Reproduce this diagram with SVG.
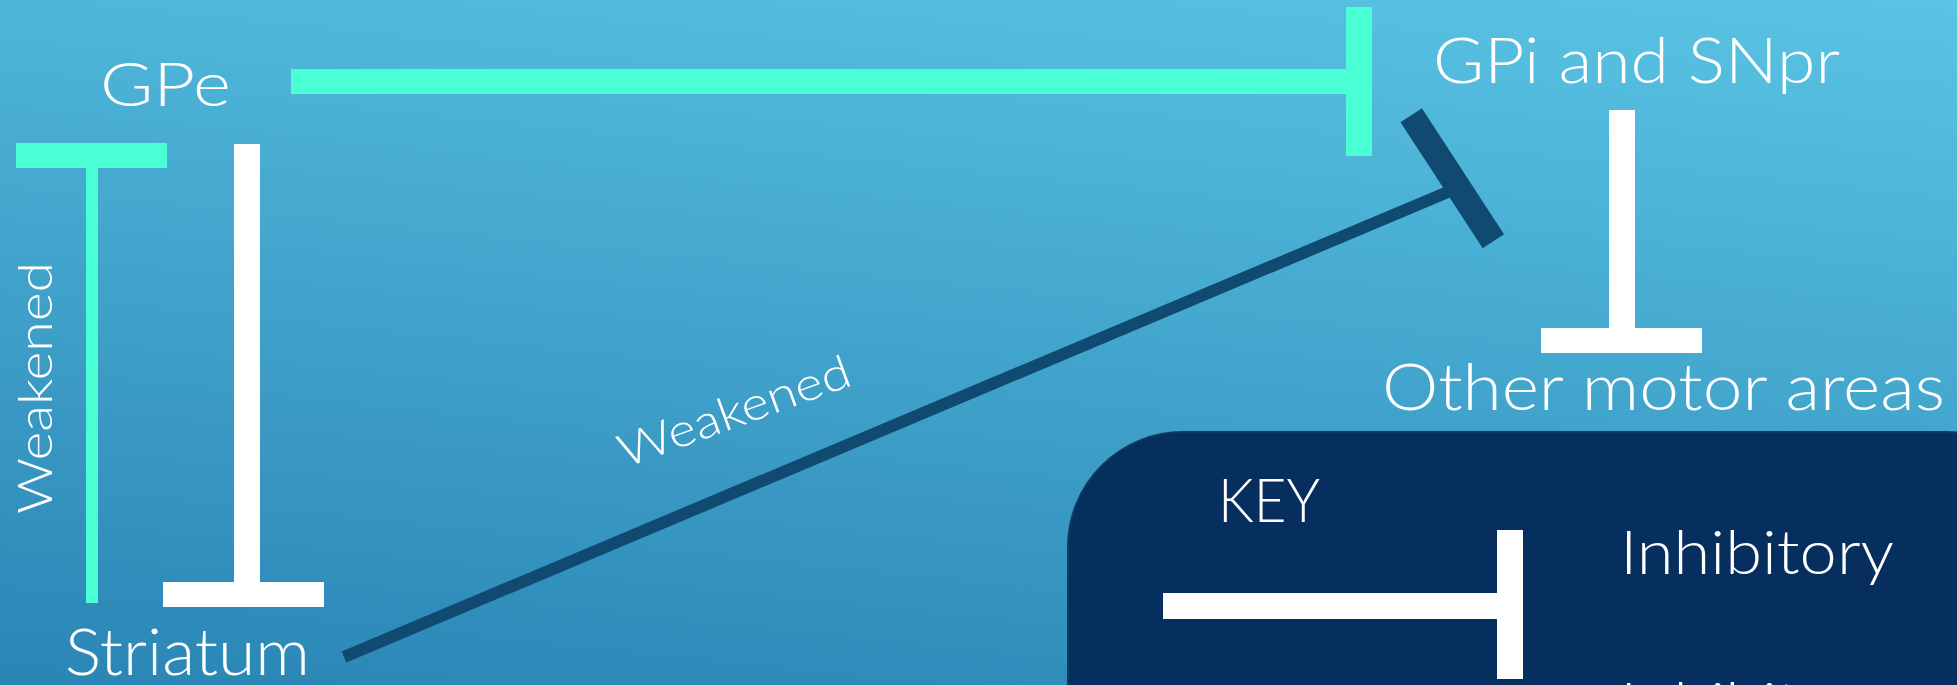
<svg xmlns="http://www.w3.org/2000/svg" width="1957" height="685" viewBox="0 0 1957 685">
  <defs>
    <linearGradient id="bg" gradientUnits="userSpaceOnUse" x1="1957" y1="0" x2="1865" y2="880">
      <stop offset="0" stop-color="#5ac4e4"/>
      <stop offset="1" stop-color="#2a85b5"/>
    </linearGradient>
    <style>
      .lbl { font-family: Lato, "Open Sans", "Liberation Sans", sans-serif; font-weight: 300; fill: #ffffff; }
      .green { fill: #4affd4; }
      .white { fill: #ffffff; }
      .dark { fill: #114a70; }
    </style>
  </defs>
  <rect x="0" y="0" width="1957" height="685" fill="url(#bg)"/>

  <g id="connectors">
    <!-- GPe -> GPi (green, inhibitory) -->
    <g id="gpe-gpi">
      <rect class="green" x="291" y="69" width="1057" height="25"/>
      <rect class="green" x="1346" y="7" width="26" height="149"/>
    </g>
    <!-- Striatum -> GPe (green, weakened) -->
    <g id="striatum-gpe">
      <rect class="green" x="86" y="166" width="12" height="437"/>
      <rect class="green" x="16" y="143" width="151" height="25"/>
      <text class="lbl" font-size="48" textLength="252" lengthAdjust="spacingAndGlyphs" transform="translate(52,514) rotate(-90)">Weakened</text>
    </g>
    <!-- GPe -> Striatum (white) -->
    <g id="gpe-striatum">
      <rect class="white" x="234" y="144" width="26" height="440"/>
      <rect class="white" x="163" y="582" width="161" height="25"/>
    </g>
    <!-- GPi -> Other motor areas (white) -->
    <g id="gpi-other">
      <rect class="white" x="1609" y="110" width="26" height="220"/>
      <rect class="white" x="1541" y="328" width="161" height="25"/>
    </g>
    <!-- Striatum -> GPi (dark, weakened) -->
    <g id="striatum-gpi">
      <line x1="344" y1="657" x2="1455" y2="189" stroke="#114a70" stroke-width="12"/>
      <polygon class="dark" points="1400.5,122.3 1421.9,108.3 1504,234.3 1482.7,248.3"/>
      <text class="lbl" font-size="46" textLength="244" lengthAdjust="spacingAndGlyphs" transform="translate(625,468) rotate(-20)">Weakened</text>
    </g>
  </g>

  <g id="node-gpe">
    <text class="lbl" x="100" y="106" font-size="62" textLength="131" lengthAdjust="spacingAndGlyphs">GPe</text>
  </g>
  <g id="node-striatum">
    <text class="lbl" x="65" y="675" font-size="66" textLength="245" lengthAdjust="spacingAndGlyphs">Striatum</text>
  </g>
  <g id="node-gpi">
    <text class="lbl" x="1433" y="83" font-size="64" textLength="407" lengthAdjust="spacingAndGlyphs">GPi and SNpr</text>
  </g>
  <g id="node-other">
    <text class="lbl" x="1382" y="410" font-size="65" textLength="563" lengthAdjust="spacingAndGlyphs">Other motor areas</text>
  </g>

  <g id="key">
    <rect x="1068" y="432" width="992" height="500" rx="115" ry="115" fill="#062e5e" stroke="#0d3c5c" stroke-width="2"/>
    <text class="lbl" x="1218" y="522" font-size="62" textLength="102" lengthAdjust="spacingAndGlyphs">KEY</text>
    <rect class="white" x="1163" y="593" width="336" height="26"/>
    <rect class="white" x="1497" y="530" width="26" height="149"/>
    <text class="lbl" x="1620" y="574" font-size="62" textLength="274" lengthAdjust="spacingAndGlyphs">Inhibitory</text>
    <text class="lbl" x="1620" y="726" font-size="62" textLength="274" lengthAdjust="spacingAndGlyphs">Inhibitory</text>
  </g>
</svg>
